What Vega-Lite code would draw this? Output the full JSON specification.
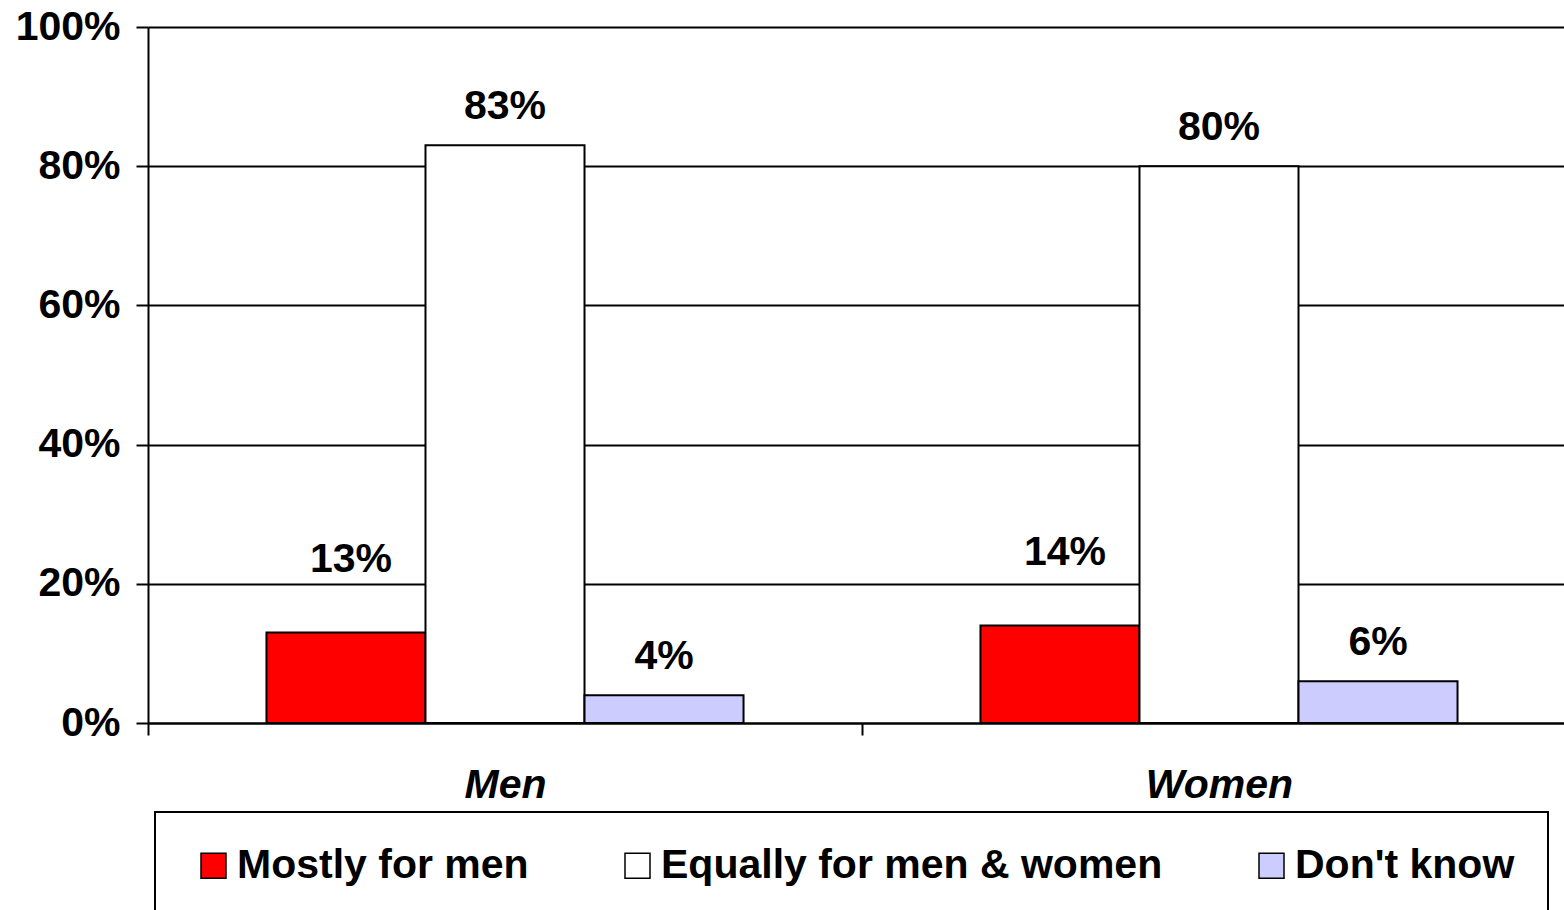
{
  "$schema": "https://vega.github.io/schema/vega-lite/v6.json",
  "width": 1428,
  "height": 696,
  "autosize": "none",
  "padding": {"left": 148, "top": 27, "right": -12, "bottom": 187},
  "background": "white",
  "config": {"view": {"stroke": null}, "font": "Liberation Sans", "legend": {"strokeWidth": 2}},
  "data": {
    "values": [
      {"group": "Men", "response": "Mostly for men", "value": 0.13},
      {"group": "Men", "response": "Equally for men & women", "value": 0.83},
      {"group": "Men", "response": "Don't know", "value": 0.04},
      {"group": "Women", "response": "Mostly for men", "value": 0.14},
      {"group": "Women", "response": "Equally for men & women", "value": 0.80},
      {"group": "Women", "response": "Don't know", "value": 0.06}
    ]
  },
  "encoding": {
    "x": {
      "field": "group",
      "type": "nominal",
      "sort": ["Men", "Women"],
      "scale": {"paddingInner": 0, "paddingOuter": 0},
      "axis": {
        "title": null,
        "labelAngle": 0,
        "labelFont": "Liberation Sans",
        "labelFontSize": 41,
        "labelFontWeight": "bold",
        "labelFontStyle": "italic",
        "labelColor": "black",
        "labelPadding": 30,
        "tickBand": "extent",
        "tickSize": 12,
        "tickColor": "black",
        "tickWidth": 2,
        "domainColor": "black",
        "domainWidth": 2,
        "grid": false
      }
    },
    "xOffset": {
      "field": "response",
      "type": "nominal",
      "sort": ["Mostly for men", "Equally for men & women", "Don't know"],
      "scale": {"paddingInner": 0, "paddingOuter": 0.745}
    },
    "y": {
      "field": "value",
      "type": "quantitative",
      "scale": {"domain": [0, 1]},
      "axis": {
        "title": null,
        "values": [0, 0.2, 0.4, 0.6, 0.8, 1],
        "format": ".0%",
        "labelFont": "Liberation Sans",
        "labelFontSize": 41,
        "labelFontWeight": "bold",
        "labelColor": "black",
        "labelPadding": 16,
        "tickSize": 12,
        "tickColor": "black",
        "tickWidth": 2,
        "domainColor": "black",
        "domainWidth": 2,
        "grid": true,
        "gridColor": "black",
        "gridWidth": 2
      }
    }
  },
  "layer": [
    {
      "mark": {"type": "bar", "stroke": "black", "strokeWidth": 2},
      "encoding": {
        "color": {
          "field": "response",
          "type": "nominal",
          "scale": {
            "domain": ["Mostly for men", "Equally for men & women", "Don't know"],
            "range": ["#FF0000", "#FFFFFF", "#CCCCFF"]
          },
          "legend": {
            "orient": "none",
            "legendX": 7,
            "legendY": 785,
            "direction": "horizontal",
            "title": null,
            "symbolType": "square",
            "symbolSize": 625,
            "symbolStrokeColor": "black",
            "symbolStrokeWidth": 1.5,
            "symbolOpacity": 1,
            "symbolOffset": 5,
            "labelFont": "Liberation Sans",
            "labelFontSize": 41,
            "labelFontWeight": "bold",
            "labelColor": "black",
            "labelOffset": 3,
            "labelLimit": 0,
            "columnPadding": 83,
            "padding": 33,
            "strokeColor": "black",
            "fillColor": "white"
          }
        }
      }
    },
    {
      "transform": [{"filter": "datum.response !== 'Mostly for men'"}],
      "mark": {"type": "text", "baseline": "alphabetic", "dy": -26, "fontSize": 41, "fontWeight": "bold", "color": "black", "font": "Liberation Sans"},
      "encoding": {"text": {"field": "value", "type": "quantitative", "format": ".0%"}}
    },
    {
      "transform": [{"filter": "datum.response === 'Mostly for men'"}],
      "mark": {"type": "text", "baseline": "alphabetic", "dy": -61, "dx": 5, "fontSize": 41, "fontWeight": "bold", "color": "black", "font": "Liberation Sans"},
      "encoding": {"text": {"field": "value", "type": "quantitative", "format": ".0%"}}
    }
  ]
}
